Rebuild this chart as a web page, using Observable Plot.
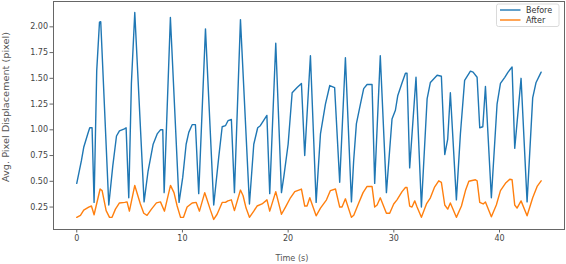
<!DOCTYPE html>
<html>
<head>
<meta charset="utf-8">
<script src="https://cdn.jsdelivr.net/npm/d3@7"></script>
<script src="https://cdn.jsdelivr.net/npm/@observablehq/plot@0.6"></script>
<style>
  html, body { margin: 0; padding: 0; background: #fff; }
  #wrap { position: relative; width: 566px; height: 264px; overflow: hidden; font-family: "DejaVu Sans", sans-serif; }
  #wrap svg.plot { position: absolute; left: 0; top: 0; }
  #ov { position: absolute; left: 0; top: 0; pointer-events: none; }
</style>
</head>
<body>
<div id="wrap"></div>
<script>
// ---- data ----
const seriesNames = ["Before", "After"];
const seriesColors = ["#1f77b4", "#ff7f0e"];

const beforeTime = [0, 0.44, 0.66, 1.04, 1.23, 1.45, 1.64, 1.89, 2.15, 2.27, 3.03, 3.41, 3.76, 4.04, 4.51, 4.67, 4.92, 5.17, 5.49, 6.37, 6.75, 7.23, 7.61, 7.92, 8.14, 8.27, 8.86, 9.68, 10.03, 10.35, 10.6, 10.92, 11.23, 11.54, 12.18, 12.96, 13.43, 13.76, 14.07, 14.32, 14.63, 14.92, 15.49, 16.34, 16.75, 17.12, 17.37, 17.99, 18.26, 18.83, 19.37, 19.6, 20.0, 20.38, 20.85, 21.26, 21.57, 22.11, 22.65, 23.06, 23.53, 23.94, 24.4, 24.88, 25.42, 25.99, 26.2, 26.46, 26.84, 27.15, 27.47, 27.94, 28.19, 28.72, 29.3, 29.83, 30.15, 30.37, 30.79, 31.1, 31.25, 31.5, 32.1, 32.61, 33.15, 33.46, 34.1, 34.5, 34.82, 35.1, 35.35, 35.92, 36.3, 36.7, 37.25, 37.5, 37.88, 38.13, 38.42, 38.67, 39.23, 39.77, 40.09, 40.5, 40.81, 41.19, 41.44, 42.04, 42.61, 43.14, 43.46, 43.94];
const beforeValue = [0.48, 0.70, 0.83, 0.96, 1.02, 1.02, 0.295, 1.575, 2.045, 2.05, 0.27, 0.65, 0.94, 0.99, 1.01, 1.02, 0.34, 1.45, 2.14, 0.30, 0.60, 0.86, 0.96, 1.00, 1.00, 0.39, 2.09, 0.295, 0.54, 0.86, 0.975, 1.05, 1.05, 0.38, 1.98, 0.27, 0.73, 1.03, 1.04, 1.09, 1.10, 0.39, 2.07, 0.28, 0.86, 1.02, 1.04, 1.14, 0.38, 1.84, 0.39, 0.55, 0.86, 1.36, 1.41, 1.45, 0.75, 1.72, 0.295, 0.96, 1.25, 1.43, 1.41, 0.49, 1.70, 0.30, 0.70, 1.06, 1.25, 1.40, 1.44, 1.44, 0.48, 1.72, 0.39, 1.105, 1.19, 1.33, 1.46, 1.55, 1.55, 0.63, 1.51, 0.25, 1.30, 1.46, 1.53, 1.52, 0.76, 0.91, 1.36, 0.32, 0.96, 1.48, 1.57, 1.56, 1.51, 1.02, 1.03, 1.42, 0.34, 1.25, 1.45, 1.51, 1.56, 1.61, 0.82, 1.50, 0.30, 1.31, 1.46, 1.56];

const afterTime = [0, 0.35, 0.66, 1.13, 1.39, 1.64, 2.21, 2.4, 2.78, 3.1, 3.34, 3.66, 4.04, 4.54, 4.76, 4.98, 5.49, 6.02, 6.34, 6.65, 7.07, 7.54, 7.92, 8.3, 8.87, 9.2, 9.5, 9.82, 10.1, 10.44, 10.92, 11.3, 11.61, 12.11, 12.27, 12.65, 12.96, 13.28, 13.76, 14.07, 14.3, 14.63, 14.92, 15.49, 15.74, 16.02, 16.34, 16.75, 17.06, 17.53, 18.0, 18.26, 18.83, 19.37, 19.75, 20.22, 20.63, 21.26, 21.57, 21.79, 22.05, 22.65, 23.06, 23.63, 24.0, 24.48, 24.88, 25.1, 25.42, 25.99, 26.21, 26.68, 27.09, 27.47, 27.94, 28.19, 28.42, 28.72, 29.3, 29.61, 29.99, 30.3, 30.78, 31.1, 31.25, 31.5, 31.72, 31.98, 32.2, 32.61, 33.09, 33.46, 33.84, 34.25, 34.5, 34.82, 35.1, 35.35, 35.92, 36.4, 36.78, 37.1, 37.72, 37.88, 38.13, 38.45, 38.67, 39.23, 39.7, 40.09, 40.56, 40.97, 41.19, 41.44, 41.66, 42.04, 42.61, 43.14, 43.56, 43.94];
const afterValue = [0.15, 0.17, 0.22, 0.25, 0.26, 0.175, 0.425, 0.41, 0.215, 0.15, 0.15, 0.23, 0.29, 0.295, 0.30, 0.21, 0.46, 0.28, 0.19, 0.17, 0.23, 0.29, 0.30, 0.21, 0.46, 0.39, 0.26, 0.15, 0.15, 0.25, 0.29, 0.295, 0.21, 0.39, 0.34, 0.22, 0.13, 0.18, 0.295, 0.295, 0.31, 0.32, 0.215, 0.415, 0.36, 0.24, 0.15, 0.21, 0.26, 0.28, 0.32, 0.21, 0.40, 0.18, 0.25, 0.34, 0.40, 0.425, 0.26, 0.26, 0.34, 0.165, 0.24, 0.32, 0.41, 0.425, 0.25, 0.25, 0.33, 0.15, 0.17, 0.29, 0.39, 0.45, 0.45, 0.25, 0.27, 0.34, 0.19, 0.19, 0.28, 0.32, 0.40, 0.44, 0.44, 0.26, 0.25, 0.31, 0.25, 0.15, 0.28, 0.34, 0.44, 0.505, 0.49, 0.27, 0.23, 0.29, 0.15, 0.26, 0.41, 0.50, 0.515, 0.505, 0.295, 0.28, 0.30, 0.155, 0.27, 0.41, 0.48, 0.52, 0.515, 0.27, 0.24, 0.31, 0.165, 0.34, 0.45, 0.505];

const xTicks = [0, 10, 20, 30, 40];
const yTicks = [0.25, 0.50, 0.75, 1.00, 1.25, 1.50, 1.75, 2.00];
const xLabel = "Time (s)";
const yLabel = "Avg. Pixel Displacement (pixel)";

// ---- build tables ----
const before = beforeTime.map((t, i) => ({t, v: beforeValue[i], s: seriesNames[0]}));
const after = afterTime.map((t, i) => ({t, v: afterValue[i], s: seriesNames[1]}));

const W = 566, H = 264;
const chart = Plot.plot({
  width: W,
  height: H,
  marginLeft: 53,
  marginRight: 2,
  marginTop: 1,
  marginBottom: 35,
  style: {fontFamily: "DejaVu Sans, sans-serif", fontSize: "8px", background: "white", color: "#444", overflow: "visible"},
  x: {domain: [-2.2, 46.15]},
  y: {domain: [0.032, 2.246]},
  marks: [
    Plot.line(after, {x: "t", y: "v", stroke: seriesColors[1], strokeWidth: 1.4}),
    Plot.line(before, {x: "t", y: "v", stroke: seriesColors[0], strokeWidth: 1.4}),
    Plot.frame({stroke: "#666", strokeWidth: 1}),
    Plot.axisX({ticks: xTicks, tickFormat: d => String(d), tickSize: 3.5, tickPadding: 2, label: null, stroke: "#666", fill: "#444"}),
    Plot.axisY({ticks: yTicks, tickFormat: d3.format(".2f"), tickSize: 3.5, tickPadding: 2, label: null, stroke: "#666", fill: "#444"})
  ]
});
chart.classList.add("plot");
const wrap = document.getElementById("wrap");
wrap.appendChild(chart);

// overlay: axis titles and legend
const ns = "http://www.w3.org/2000/svg";
const ov = document.createElementNS(ns, "svg");
ov.setAttribute("id", "ov");
ov.setAttribute("width", W);
ov.setAttribute("height", H);
function el(tag, attrs, text) {
  const e = document.createElementNS(ns, tag);
  for (const k in attrs) e.setAttribute(k, attrs[k]);
  if (text != null) e.textContent = text;
  ov.appendChild(e);
  return e;
}
el("text", {x: 292, y: 261, "text-anchor": "middle", "font-family": "DejaVu Sans", "font-size": 9, fill: "#555", textLength: 33, lengthAdjust: "spacingAndGlyphs"}, xLabel);
el("text", {x: 0, y: 0, transform: "translate(9,107) rotate(-90)", "text-anchor": "middle", "font-family": "DejaVu Sans", "font-size": 9.5, fill: "#555", textLength: 150, lengthAdjust: "spacingAndGlyphs"}, yLabel);
// legend
el("rect", {x: 496.5, y: 4, width: 62.5, height: 22.5, rx: 2, fill: "white", stroke: "#d0d0d0", "stroke-width": 0.8});
seriesNames.forEach((name, i) => {
  const y = 10 + i * 10;
  el("line", {x1: 500, x2: 520.5, y1: y, y2: y, stroke: seriesColors[i], "stroke-width": 1.4});
  el("text", {x: 526, y: y + 3, "font-family": "DejaVu Sans", "font-size": 8, fill: "#333"}, name);
});
wrap.appendChild(ov);
</script>
</body>
</html>
